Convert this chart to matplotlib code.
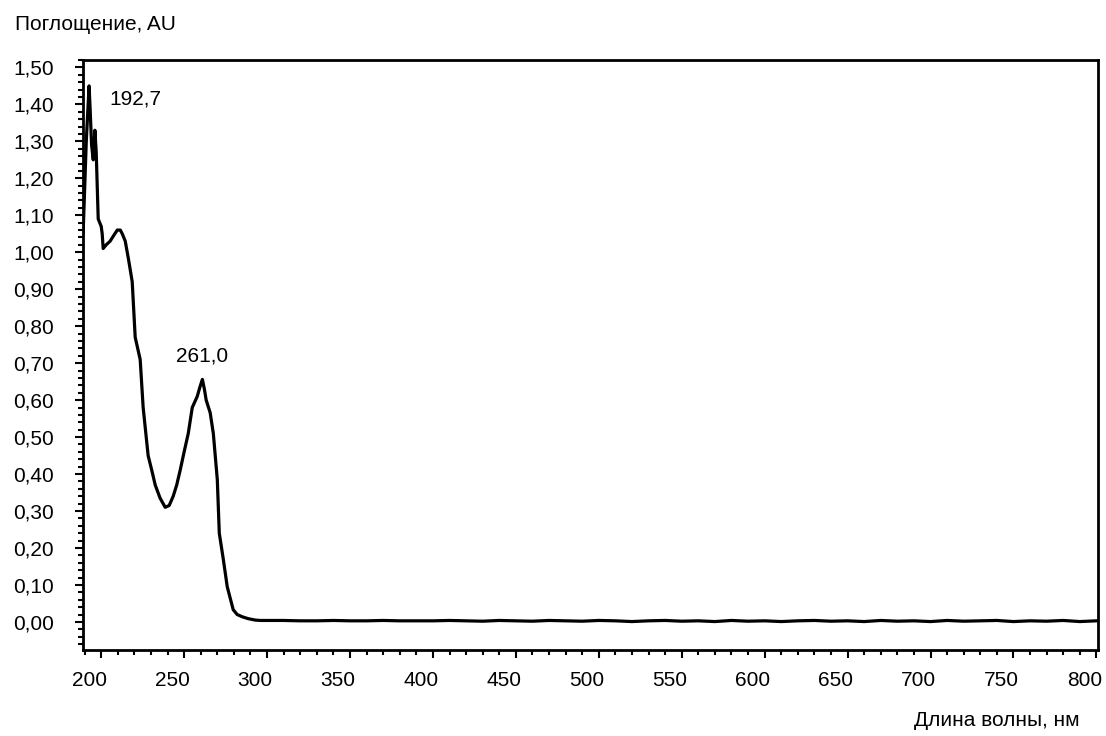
import matplotlib.pyplot as plt
from matplotlib.ticker import MultipleLocator, FuncFormatter
from matplotlib.transforms import ScaledTranslation

plt.rcParams['font.family'] = ['Liberation Sans', 'DejaVu Sans']

# спектр поглощения: длина волны (нм) и поглощение (AU)
wl_peak = [189.1, 191.0, 192.7, 193.4, 194.2, 195.2, 196.2, 197.0, 198.2, 200.0,
           200.6, 201.2, 203.0, 205.4, 207.5, 209.7, 211.5, 212.7, 214.5, 216.5,
           218.7, 220.5, 223.5, 225.3, 228.3, 230.5, 232.6, 235.5, 238.6, 241.0,
           243.4, 245.5, 247.6, 250.0, 252.5, 254.9, 257.9, 259.5, 261.0, 262.2,
           263.3, 265.7, 267.6, 270.0, 271.2, 273.6, 276.0, 279.6, 282.0, 285.0,
           288.5, 292.9, 296.0]
abs_peak = [1.05, 1.30, 1.45, 1.38, 1.29, 1.25, 1.33, 1.27, 1.09, 1.07,
            1.05, 1.01, 1.02, 1.03, 1.045, 1.06, 1.06, 1.05, 1.03, 0.98,
            0.92, 0.77, 0.71, 0.58, 0.45, 0.41, 0.37, 0.335, 0.31, 0.315,
            0.34, 0.37, 0.41, 0.46, 0.51, 0.58, 0.61, 0.635, 0.656, 0.63,
            0.60, 0.566, 0.51, 0.385, 0.24, 0.17, 0.095, 0.033, 0.02, 0.014,
            0.009, 0.005, 0.004]

wl_base = list(range(300, 810, 10))
abs_base = [0.004, 0.004, 0.003, 0.003, 0.004, 0.003, 0.003, 0.004, 0.003, 0.003,
            0.003, 0.004, 0.003, 0.002, 0.004, 0.003, 0.002, 0.004, 0.003, 0.002,
            0.004, 0.003, 0.001, 0.003, 0.004, 0.002, 0.003, 0.001, 0.004, 0.002,
            0.003, 0.001, 0.003, 0.004, 0.002, 0.003, 0.001, 0.004, 0.002, 0.003,
            0.001, 0.004, 0.002, 0.003, 0.004, 0.001, 0.003, 0.002, 0.004, 0.001,
            0.003]

wavelength = wl_peak + wl_base
absorbance = abs_peak + abs_base

fig = plt.figure(figsize=(11.06, 7.36), dpi=100)
ax = fig.add_axes([0.075, 0.1168, 0.9178, 0.8017])
ax.plot(wavelength, absorbance, color='black', lw=2.3)

ax.set_xlim(189, 801)
ax.set_ylim(-0.076, 1.52)
ax.xaxis.set_major_locator(MultipleLocator(50))
ax.xaxis.set_minor_locator(MultipleLocator(10))
ax.yaxis.set_major_locator(MultipleLocator(0.1))
ax.yaxis.set_minor_locator(MultipleLocator(0.02))
ax.yaxis.set_major_formatter(FuncFormatter(lambda v, p: f"{v:.2f}".replace('.', ',')))

ax.tick_params(which='major', direction='out', length=6, width=1.5, labelsize=15, color='black')
ax.tick_params(which='minor', direction='out', length=3.5, width=1.5, color='black')
ax.tick_params(axis='x', pad=9)
ax.tick_params(axis='y', pad=15)
for s in ax.spines.values():
    s.set_linewidth(2)

# подписи оси x чуть сдвинуты влево, как в оригинале
shift = ScaledTranslation(-12 / 100, 0, fig.dpi_scale_trans)
for lab in ax.get_xticklabels():
    lab.set_transform(lab.get_transform() + shift)

ax.text(220.5, 1.415, '192,7', fontsize=15, ha='center', va='center')
ax.text(260.9, 0.72, '261,0', fontsize=15, ha='center', va='center')

fig.text(15 / 1106, 1 - 24 / 736, 'Поглощение, AU', fontsize=15, ha='left', va='center')
fig.text(1080 / 1106, 1 - 721 / 736, 'Длина волны, нм', fontsize=15, ha='right', va='center')

fig.savefig('out.png', dpi=100)
